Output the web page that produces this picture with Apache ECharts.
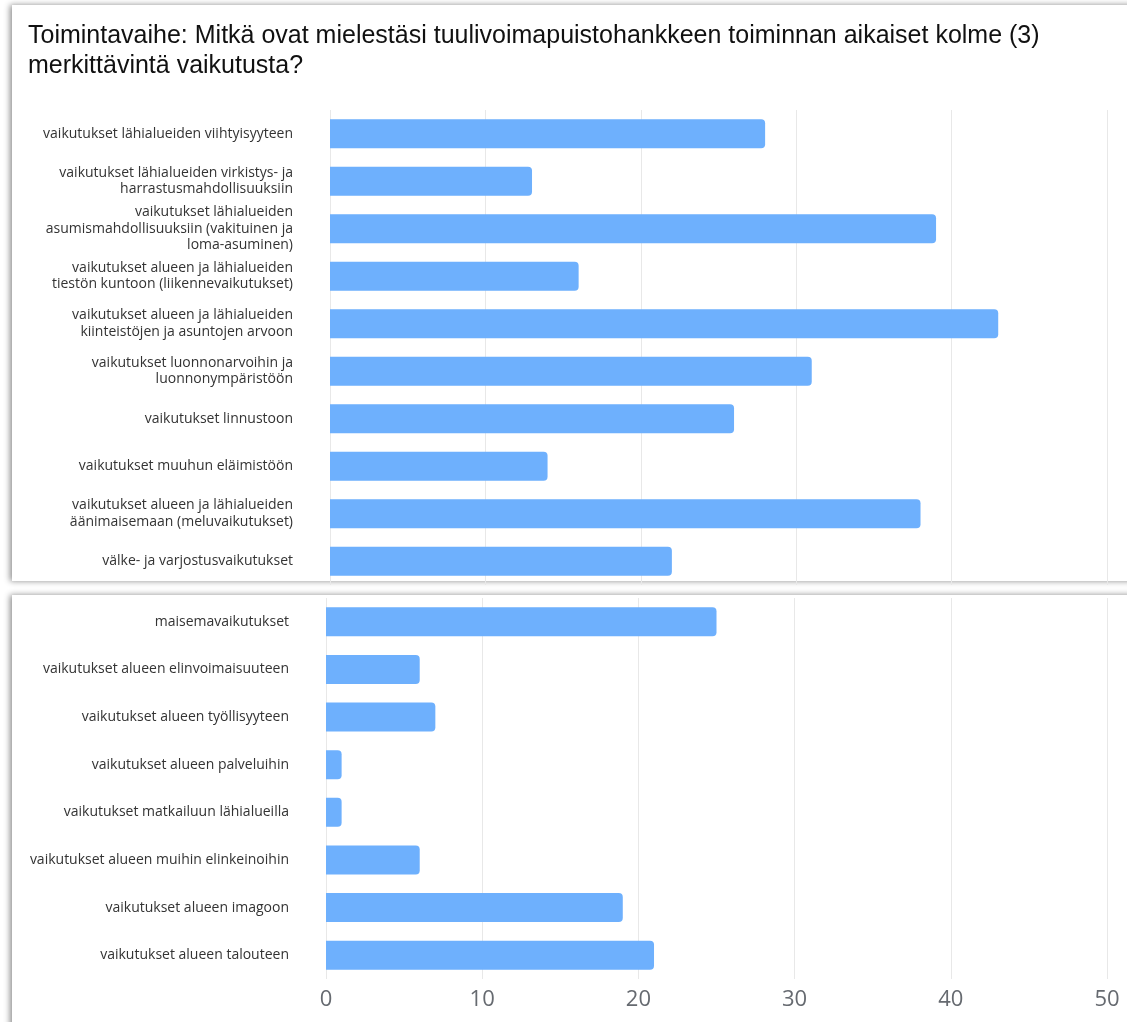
<!DOCTYPE html>
<html lang="fi">
  <head>
    <meta charset="UTF-8" />
    <title>Toimintavaihe</title>
    <script src="https://cdn.jsdelivr.net/npm/echarts@6/dist/echarts.min.js"></script>
    <style>
      html, body { margin: 0; padding: 0; background: #fff; }
      #main { width: 1127px; height: 1022px; }
    </style>
  </head>
  <body>
    <div id="main"></div>
    <script type="text/javascript">
      // ylempi kuvakaappaus
      var topCategories = [
        "vaikutukset lähialueiden viihtyisyyteen",
        "vaikutukset lähialueiden virkistys- ja\nharrastusmahdollisuuksiin",
        "vaikutukset lähialueiden\nasumismahdollisuuksiin (vakituinen ja\nloma-asuminen)",
        "vaikutukset alueen ja lähialueiden\ntiestön kuntoon (liikennevaikutukset)",
        "vaikutukset alueen ja lähialueiden\nkiinteistöjen ja asuntojen arvoon",
        "vaikutukset luonnonarvoihin ja\nluonnonympäristöön",
        "vaikutukset linnustoon",
        "vaikutukset muuhun eläimistöön",
        "vaikutukset alueen ja lähialueiden\näänimaisemaan (meluvaikutukset)",
        "välke- ja varjostusvaikutukset",
      ];
      var topValues = [28, 13, 39, 16, 43, 31, 26, 14, 38, 22];

      // alempi kuvakaappaus
      var bottomCategories = [
        "maisemavaikutukset",
        "vaikutukset alueen elinvoimaisuuteen",
        "vaikutukset alueen työllisyyteen",
        "vaikutukset alueen palveluihin",
        "vaikutukset matkailuun lähialueilla",
        "vaikutukset alueen muihin elinkeinoihin",
        "vaikutukset alueen imagoon",
        "vaikutukset alueen talouteen",
      ];
      var bottomValues = [25, 6, 7, 1, 1, 6, 19, 21];

      var xMin = 0;
      var xMax = 50;
      var xStep = 10;

      var barColor = "#6eb0fd";
      var gridColor = "#e8e8e8";

      function main() {
        var myChart = echarts.init(document.getElementById("main"));

        var catLabel = {
          color: "#333",
          fontFamily: "Open Sans",
          fontSize: 14,
          lineHeight: 16.5,
          margin: 37,
          align: "right",
        };

        var panelStyle = {
          fill: "#fff",
          shadowBlur: 6,
          shadowOffsetX: -2,
          shadowColor: "rgba(0,0,0,0.45)",
        };

        const option = {
          animation: false,
          backgroundColor: "#fff",
          graphic: [
            // kuvakaappausten kehykset
            {
              type: "rect",
              z: -10,
              shape: { x: 12, y: 5, width: 1140, height: 576 },
              style: panelStyle,
            },
            {
              type: "rect",
              z: -10,
              shape: { x: 12, y: 595, width: 1140, height: 460 },
              style: panelStyle,
            },
            {
              type: "text",
              left: 28,
              top: 21,
              style: {
                text: "Toimintavaihe: Mitkä ovat mielestäsi tuulivoimapuistohankkeen toiminnan aikaiset kolme (3)\nmerkittävintä vaikutusta?",
                fill: "#111",
                font: "25px 'Liberation Sans', Arial, sans-serif",
                lineHeight: 30,
              },
            },
          ],
          grid: [
            { left: 330, right: 20, top: 110, height: 475 },
            { left: 326, right: 20, top: 598, height: 381 },
          ],
          xAxis: [
            {
              gridIndex: 0,
              type: "value",
              min: xMin,
              max: xMax,
              interval: xStep,
              axisLine: { show: false },
              axisTick: { show: false },
              axisLabel: { show: false },
              splitLine: { lineStyle: { color: gridColor, width: 1 } },
            },
            {
              gridIndex: 1,
              type: "value",
              min: xMin,
              max: xMax,
              interval: xStep,
              axisLine: { show: false },
              axisTick: { show: false },
              axisLabel: {
                color: "#666a70",
                fontFamily: "Open Sans",
                fontSize: 22,
                margin: 10,
              },
              splitLine: { lineStyle: { color: gridColor, width: 1 } },
            },
          ],
          yAxis: [
            {
              gridIndex: 0,
              type: "category",
              inverse: true,
              data: topCategories,
              axisLine: { show: false },
              axisTick: { show: false },
              axisLabel: catLabel,
            },
            {
              gridIndex: 1,
              type: "category",
              inverse: true,
              data: bottomCategories,
              axisLine: { show: false },
              axisTick: { show: false },
              axisLabel: catLabel,
            },
          ],
          series: [
            {
              type: "bar",
              xAxisIndex: 0,
              yAxisIndex: 0,
              data: topValues,
              barWidth: 29,
              itemStyle: { color: barColor, borderRadius: [0, 4, 4, 0] },
            },
            {
              type: "bar",
              xAxisIndex: 1,
              yAxisIndex: 1,
              data: bottomValues,
              barWidth: 29,
              itemStyle: { color: barColor, borderRadius: [0, 4, 4, 0] },
            },
          ],
        };
        myChart.setOption(option);
      }

      main();
    </script>
  </body>
</html>
